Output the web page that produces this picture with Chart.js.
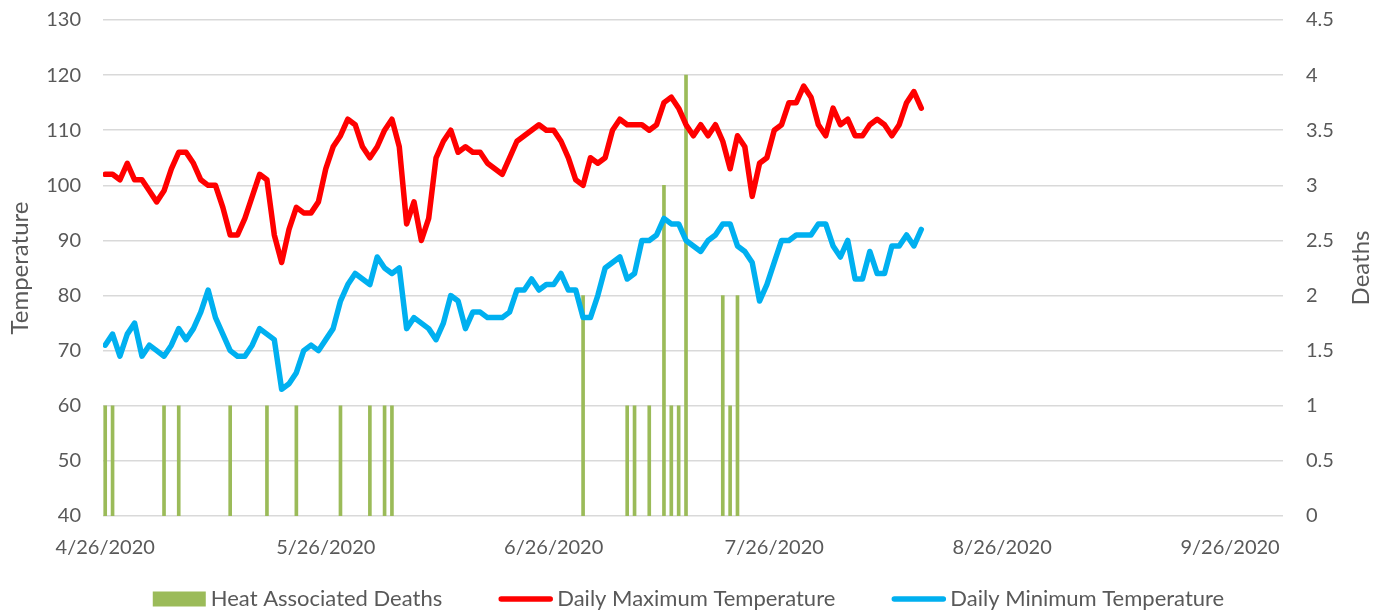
<!DOCTYPE html>
<html>
<head>
<meta charset="utf-8">
<script src="https://cdn.jsdelivr.net/npm/chart.js@4.4.1/dist/chart.umd.min.js"></script>
<style>
  body { margin: 0; background: #fff; }
  #wrap { width: 1387px; height: 611px; }
</style>
</head>
<body>
<div id="wrap"><canvas id="myChart" width="1387" height="611"></canvas></div>
<script>
// dias contados a partir de 4/26/2020 (dia 0)
const maxTemp = [102, 102, 101, 104, 101, 101, 99, 97, 99, 103,
  106, 106, 104, 101, 100, 100, 96, 91, 91, 94,
  98, 102, 101, 91, 86, 92, 96, 95, 95, 97,
  103, 107, 109, 112, 111, 107, 105, 107, 110, 112,
  107, 93, 97, 90, 94, 105, 108, 110, 106, 107,
  106, 106, 104, 103, 102, 105, 108, 109, 110, 111,
  110, 110, 108, 105, 101, 100, 105, 104, 105, 110,
  112, 111, 111, 111, 110, 111, 115, 116, 114, 111,
  109, 111, 109, 111, 108, 103, 109, 107, 98, 104,
  105, 110, 111, 115, 115, 118, 116, 111, 109, 114,
  111, 112, 109, 109, 111, 112, 111, 109, 111, 115,
  117, 114];

const minTemp = [71, 73, 69, 73, 75, 69, 71, 70, 69, 71,
  74, 72, 74, 77, 81, 76, 73, 70, 69, 69,
  71, 74, 73, 72, 63, 64, 66, 70, 71, 70,
  72, 74, 79, 82, 84, 83, 82, 87, 85, 84,
  85, 74, 76, 75, 74, 72, 75, 80, 79, 74,
  77, 77, 76, 76, 76, 77, 81, 81, 83, 81,
  82, 82, 84, 81, 81, 76, 76, 80, 85, 86,
  87, 83, 84, 90, 90, 91, 94, 93, 93, 90,
  89, 88, 90, 91, 93, 93, 89, 88, 86, 79,
  82, 86, 90, 90, 91, 91, 91, 93, 93, 89,
  87, 90, 83, 83, 88, 84, 84, 89, 89, 91,
  89, 92];

const deathDays = [0, 1, 8, 10, 17, 22, 26, 32, 36, 38, 39, 65, 71, 72, 74, 76, 77, 78, 79, 84, 85, 86];
const deathCounts = [1, 1, 1, 1, 1, 1, 1, 1, 1, 1, 1, 2, 1, 1, 1, 3, 1, 1, 4, 2, 1, 2];

const xTickDays = [0, 30, 61, 91, 122, 153];
const xTickLabels = ['4/26/2020', '5/26/2020', '6/26/2020', '7/26/2020', '8/26/2020', '9/26/2020'];

const corTexto = '#595959';
const fonte = 'Lato';

// titulo do eixo direito (Excel escreve de baixo para cima)
const tituloDireito = {
  id: 'tituloDireito',
  afterDraw(chart) {
    const ctx = chart.ctx;
    const area = chart.chartArea;
    ctx.save();
    ctx.translate(chart.width - 26, (area.top + area.bottom) / 2);
    ctx.rotate(-Math.PI / 2);
    ctx.font = '24px ' + fonte;
    ctx.fillStyle = corTexto;
    ctx.textAlign = 'center';
    ctx.textBaseline = 'middle';
    ctx.fillText('Deaths', 0, 0);
    ctx.restore();
  }
};

// legenda no estilo do Excel: caixa/linha de 53px, texto logo ao lado
const legendaExcel = {
  id: 'legendaExcel',
  afterDraw(chart) {
    const ctx = chart.ctx;
    const simbolo = 53, espaco = 5, intervalo = 57;
    const y = 599;
    ctx.save();
    ctx.font = '22px ' + fonte;
    const itens = chart.data.datasets.map(ds => ({
      ds: ds,
      largura: simbolo + espaco + ctx.measureText(ds.label).width
    }));
    const total = itens.reduce((s, it) => s + it.largura, 0) + intervalo * (itens.length - 1);
    let x = (chart.width - total) / 2 - 5;
    itens.forEach(it => {
      if (it.ds.type === 'bar') {
        ctx.fillStyle = it.ds.backgroundColor;
        ctx.fillRect(x, y - 7.5, simbolo, 15);
      } else {
        ctx.strokeStyle = it.ds.borderColor;
        ctx.lineWidth = it.ds.borderWidth;
        ctx.lineCap = 'round';
        ctx.beginPath();
        ctx.moveTo(x + 2, y);
        ctx.lineTo(x + simbolo - 2, y);
        ctx.stroke();
      }
      ctx.fillStyle = corTexto;
      ctx.textAlign = 'left';
      ctx.textBaseline = 'middle';
      ctx.fillText(it.ds.label, x + simbolo + espaco, y);
      x += it.largura + intervalo;
    });
    ctx.restore();
  }
};

function rotuloData(v) {
  const i = xTickDays.findIndex(d => Math.abs(d - v) < 0.01);
  return i >= 0 ? xTickLabels[i] : '';
}

// largura fixa do eixo e sem folga extra em cima/embaixo
function fixaEixoY(largura) {
  return (scale) => {
    scale.width = largura;
    scale.paddingTop = 0;
    scale.paddingBottom = 0;
  };
}

const ctx = document.getElementById('myChart');
const myChart = new Chart(ctx, {
  data: {
    datasets: [{
      type: 'bar',
      label: 'Heat Associated Deaths',
      data: deathDays.map((d, i) => ({ x: d, y: deathCounts[i] })),
      backgroundColor: '#9BBB59',
      borderWidth: 0,
      barThickness: 3,
      yAxisID: 'y1',
      order: 2
    }, {
      type: 'line',
      label: 'Daily Maximum Temperature',
      data: maxTemp.map((v, i) => ({ x: i, y: v })),
      borderColor: '#FF0000',
      backgroundColor: '#FF0000',
      borderWidth: 5.5,
      borderJoinStyle: 'round',
      borderCapStyle: 'round',
      pointRadius: 0,
      tension: 0,
      yAxisID: 'y',
      order: 1
    }, {
      type: 'line',
      label: 'Daily Minimum Temperature',
      data: minTemp.map((v, i) => ({ x: i, y: v })),
      borderColor: '#00B0F0',
      backgroundColor: '#00B0F0',
      borderWidth: 5.5,
      borderJoinStyle: 'round',
      borderCapStyle: 'round',
      pointRadius: 0,
      tension: 0,
      yAxisID: 'y',
      order: 0
    }]
  },
  options: {
    responsive: false,
    animation: false,
    layout: { padding: { top: 20, bottom: 0 } },
    scales: {
      x: {
        type: 'linear',
        offset: false,
        min: -0.3,
        max: 160.2,
        afterBuildTicks: (scale) => {
          scale.ticks = xTickDays.map(d => ({ value: d }));
        },
        afterFit: (scale) => { scale.height = 95; },
        ticks: {
          autoSkip: false,
          maxRotation: 0,
          padding: 20,
          color: corTexto,
          font: { family: fonte, size: 20 },
          callback: (v) => rotuloData(v)
        },
        grid: { display: false, drawTicks: false },
        border: { display: false }
      },
      y: {
        position: 'left',
        min: 40,
        max: 130,
        afterFit: fixaEixoY(103),
        ticks: {
          stepSize: 10,
          padding: 22,
          color: corTexto,
          font: { family: fonte, size: 20 }
        },
        grid: { color: '#D9D9D9', lineWidth: 1.5, drawTicks: false },
        border: { display: false },
        title: {
          display: true,
          text: 'Temperature',
          color: corTexto,
          font: { family: fonte, size: 24 },
          padding: { top: 6, bottom: 0 }
        }
      },
      y1: {
        position: 'right',
        min: 0,
        max: 4.5,
        afterFit: fixaEixoY(104),
        ticks: {
          stepSize: 0.5,
          padding: 23,
          color: corTexto,
          font: { family: fonte, size: 20 },
          callback: (v) => String(v)
        },
        grid: { display: false, drawTicks: false },
        border: { display: false }
      }
    },
    plugins: {
      tooltip: { enabled: false },
      legend: { display: false }
    }
  },
  plugins: [tituloDireito, legendaExcel]
});
</script>
</body>
</html>
